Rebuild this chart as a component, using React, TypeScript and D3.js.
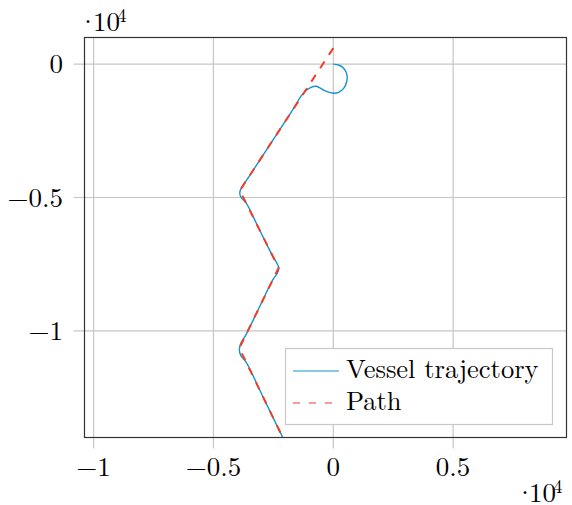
import React, { useEffect, useRef } from 'react';
import * as d3 from 'd3';

// planned path waypoints (m)
const pathX = [0, -3900, -2280, -3920, -2000];
const pathY = [600, -4740, -7640, -10650, -14200];

// vessel trajectory (m)
const trajX = [0, 250, 450, 570, 560, 440, 220, 0, -200, -450, -710, -950, -1150, -1330, -1755, -2730, -3510, -3780, -3900, -3850, -3657, -3090, -2523, -2330, -2276, -2330, -2526, -3100, -3674, -3850, -3920, -3860, -3632, -2960, -2000];
const trajY = [0, -40, -170, -400, -650, -900, -1060, -1090, -1050, -950, -830, -880, -1000, -1180, -1803, -3138, -4206, -4560, -4800, -5000, -5175, -6190, -7205, -7500, -7660, -7830, -8092, -9145, -10198, -10450, -10700, -10920, -11183, -12425, -14200];

const xTicks = [-1e4, -0.5e4, 0, 0.5e4];
const yTicks = [0, -0.5e4, -1e4];
const legendLabels = ['Vessel trajectory', 'Path'];

const fmt = (v: number) => String(v / 1e4).replace('-', '\u2212');

const App = () => {
  const ref = useRef<SVGSVGElement>(null);

  useEffect(() => {
    const left = 84.5, right = 566.5, top = 37.5, bottom = 437.5;
    const font = "'Latin Modern Roman', 'Liberation Serif', serif";
    const fs = 27;
    const blue = '#1593cc';
    const red = '#f43d25';
    const gridCol = '#c6c6c6';

    const svg = d3.select(ref.current);
    svg.selectAll('*').remove();

    const x = d3.scaleLinear().domain([-10380, 9730]).range([left, right]);
    const y = d3.scaleLinear().domain([-14000, 1000]).range([bottom, top]);

    svg.append('defs').append('clipPath').attr('id', 'plotclip')
      .append('rect').attr('x', left).attr('y', top).attr('width', right - left).attr('height', bottom - top);

    // grid + outward ticks
    const g = svg.append('g');
    xTicks.forEach(t => {
      g.append('line').attr('x1', x(t)).attr('x2', x(t)).attr('y1', top).attr('y2', bottom + 11)
        .attr('stroke', gridCol).attr('stroke-width', 1.2);
      g.append('text').attr('x', x(t)).attr('y', 476).attr('text-anchor', 'middle')
        .attr('font-family', font).attr('font-size', fs).text(fmt(t));
    });
    yTicks.forEach(t => {
      g.append('line').attr('x1', left - 11).attr('x2', right).attr('y1', y(t)).attr('y2', y(t))
        .attr('stroke', gridCol).attr('stroke-width', 1.2);
      g.append('text').attr('x', 63).attr('y', y(t) + 9).attr('text-anchor', 'end')
        .attr('font-family', font).attr('font-size', fs).text(fmt(t));
    });

    const plot = svg.append('g').attr('clip-path', 'url(#plotclip)');
    const line = d3.line().curve(d3.curveCatmullRom.alpha(0.5));

    const traj: [number, number][] = trajX.map((v, i) => [x(v), y(trajY[i])]);
    plot.append('path').attr('d', line(traj) as string)
      .attr('fill', 'none').attr('stroke', blue).attr('stroke-width', 1.4);

    const pth: [number, number][] = pathX.map((v, i) => [x(v), y(pathY[i])]);
    plot.append('path').attr('d', d3.line()(pth) as string)
      .attr('fill', 'none').attr('stroke', red).attr('stroke-width', 2)
      .attr('stroke-dasharray', '8,8');

    // axis box
    svg.append('rect').attr('x', left).attr('y', top).attr('width', right - left).attr('height', bottom - top)
      .attr('fill', 'none').attr('stroke', '#333').attr('stroke-width', 1.2);

    // ·10^4 multipliers
    const mult = (dotX: number, numX: number, ty: number) => {
      svg.append('text').attr('x', dotX).attr('y', ty).attr('text-anchor', 'middle')
        .attr('font-family', font).attr('font-size', fs).text('\u00b7');
      svg.append('text').attr('x', numX).attr('y', ty).attr('font-family', font).attr('font-size', fs).text('10');
      svg.append('text').attr('x', numX + 24).attr('y', ty - 9).attr('font-family', font).attr('font-size', 19).text('4');
    };
    mult(88, 93, 31);
    mult(525, 529, 502);

    // legend
    const lg = svg.append('g');
    lg.append('rect').attr('x', 285.5).attr('y', 348.5).attr('width', 267).attr('height', 76)
      .attr('fill', 'white').attr('stroke', '#c8c8c8').attr('stroke-width', 1.2);
    legendLabels.forEach((lab, i) => {
      const ly = 371 + i * 32;
      lg.append('line').attr('x1', 293).attr('x2', 339).attr('y1', ly).attr('y2', ly)
        .attr('stroke', i === 0 ? blue : red).attr('stroke-width', 1.2)
        .attr('stroke-dasharray', i === 0 ? null : '7,9');
      lg.append('text').attr('x', 346).attr('y', ly + 7).attr('font-family', font).attr('font-size', 26.5).text(lab);
    });
  }, []);

  return <svg ref={ref} width={572} height={505} style={{ position: 'absolute', left: 0, top: 0 }} />;
};

export default App;
